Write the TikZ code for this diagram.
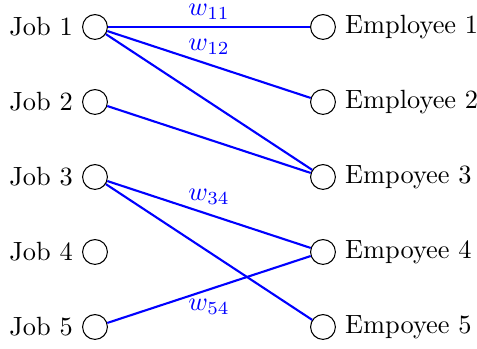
\documentclass[tikz,border=0pt]{standalone}
\begin{document}
\begin{tikzpicture}[x=0.3794pt,y=-0.3794pt,
  vert/.style={draw,circle,inner sep=3.33pt},
  edge/.style={blue,line width=0.8pt},
  wlab/.style={text=blue,midway}]
\useasboundingbox (0,0) rectangle (477,349);
\foreach \i/\y in {1/27,2/102,3/177,4/252,5/327}{
  \node[vert,label={[inner sep=3.33pt]left:Job \i}] (j\i) at (95,\y) {};
}
\node[vert,label={[inner sep=3.33pt]right:Employee 1}] (e1) at (323,27) {};
\node[vert,label={[inner sep=3.33pt]right:Employee 2}] (e2) at (323,102) {};
\node[vert,label={[inner sep=3.33pt]right:Empoyee 3}] (e3) at (323,177) {};
\node[vert,label={[inner sep=3.33pt]right:Empoyee 4}] (e4) at (323,252) {};
\node[vert,label={[inner sep=3.33pt]right:Empoyee 5}] (e5) at (323,327) {};
\draw[edge] (j1) -- node[wlab,above,inner sep=0pt,yshift=2.6pt] {$w_{11}$} (e1);
\draw[edge] (j1) -- node[wlab,above] {$w_{12}$} (e2);
\draw[edge] (j1) -- (e3);
\draw[edge] (j2) -- (e3);
\draw[edge] (j3) -- node[wlab,above] {$w_{34}$} (e4);
\draw[edge] (j3) -- (e5);
\draw[edge] (j5) -- node[wlab,below] {$w_{54}$} (e4);
\end{tikzpicture}
\end{document}
